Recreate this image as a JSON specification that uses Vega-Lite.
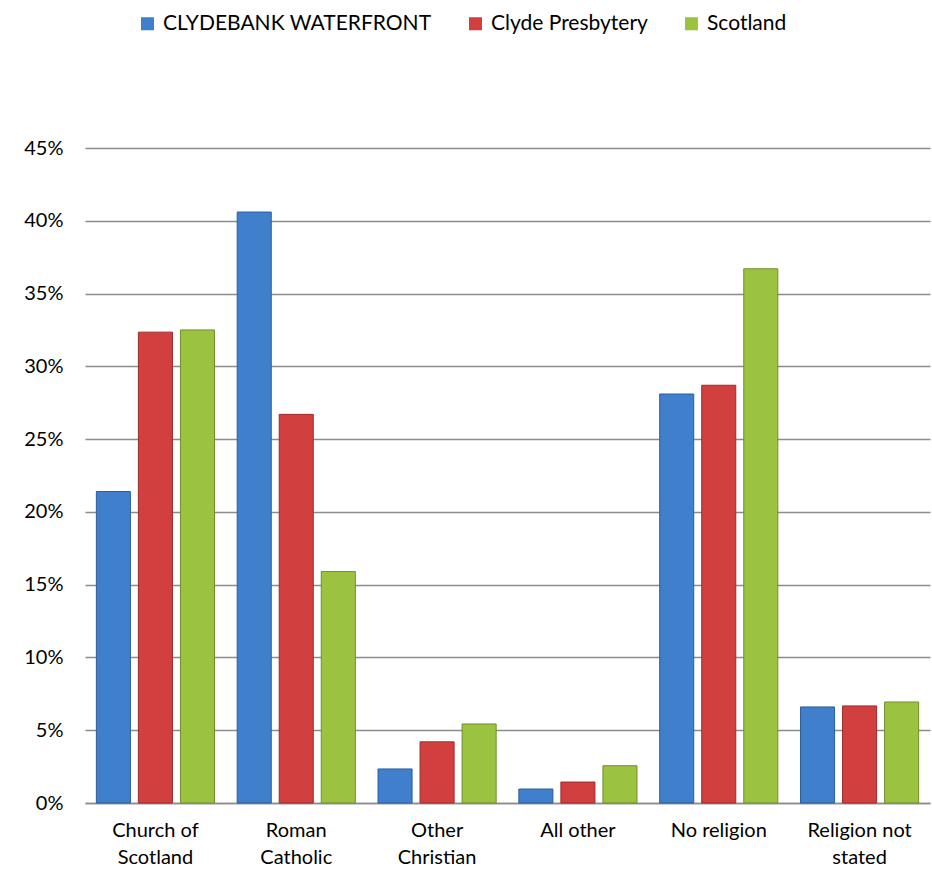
{
  "$schema": "https://vega.github.io/schema/vega-lite/v6.json",
  "autosize": {"type": "none"},
  "width": 845,
  "height": 655,
  "padding": {"left": 85, "top": 148, "right": 2, "bottom": 72},
  "background": "white",
  "config": {
    "view": {"stroke": null},
    "font": "Lato"
  },
  "data": {
    "values": [
      {"category": "Church of Scotland", "area": "CLYDEBANK WATERFRONT", "value": 21.4},
      {"category": "Church of Scotland", "area": "Clyde Presbytery", "value": 32.35},
      {"category": "Church of Scotland", "area": "Scotland", "value": 32.5},
      {"category": "Roman Catholic", "area": "CLYDEBANK WATERFRONT", "value": 40.6},
      {"category": "Roman Catholic", "area": "Clyde Presbytery", "value": 26.7},
      {"category": "Roman Catholic", "area": "Scotland", "value": 15.9},
      {"category": "Other Christian", "area": "CLYDEBANK WATERFRONT", "value": 2.34},
      {"category": "Other Christian", "area": "Clyde Presbytery", "value": 4.2},
      {"category": "Other Christian", "area": "Scotland", "value": 5.43},
      {"category": "All other", "area": "CLYDEBANK WATERFRONT", "value": 0.96},
      {"category": "All other", "area": "Clyde Presbytery", "value": 1.44},
      {"category": "All other", "area": "Scotland", "value": 2.56},
      {"category": "No religion", "area": "CLYDEBANK WATERFRONT", "value": 28.1},
      {"category": "No religion", "area": "Clyde Presbytery", "value": 28.7},
      {"category": "No religion", "area": "Scotland", "value": 36.7},
      {"category": "Religion not stated", "area": "CLYDEBANK WATERFRONT", "value": 6.6},
      {"category": "Religion not stated", "area": "Clyde Presbytery", "value": 6.67},
      {"category": "Religion not stated", "area": "Scotland", "value": 6.94}
    ]
  },
  "mark": {"type": "bar", "strokeWidth": 1},
  "encoding": {
    "x": {
      "field": "category",
      "type": "nominal",
      "sort": ["Church of Scotland", "Roman Catholic", "Other Christian", "All other", "No religion", "Religion not stated"],
      "scale": {"paddingInner": 0, "paddingOuter": 0},
      "axis": {
        "title": null,
        "labelAngle": 0,
        "labelFontSize": 20,
        "labelColor": "#000000",
        "labelPadding": 17,
        "labelLineHeight": 27,
        "labelBaseline": "top",
        "labelLimit": 0,
        "ticks": false,
        "domain": true,
        "domainColor": "#8c8c8c",
        "domainWidth": 1.5,
        "labelExpr": "datum.value == 'Church of Scotland' ? ['Church of', 'Scotland'] : datum.value == 'Roman Catholic' ? ['Roman', 'Catholic'] : datum.value == 'Other Christian' ? ['Other', 'Christian'] : datum.value == 'Religion not stated' ? ['Religion not', 'stated'] : datum.label"
      }
    },
    "xOffset": {
      "field": "area",
      "type": "nominal",
      "sort": ["CLYDEBANK WATERFRONT", "Clyde Presbytery", "Scotland"],
      "scale": {"paddingInner": 0.19, "paddingOuter": 0.27}
    },
    "y": {
      "field": "value",
      "type": "quantitative",
      "scale": {"domain": [0, 45], "nice": false},
      "axis": {
        "title": null,
        "values": [0, 5, 10, 15, 20, 25, 30, 35, 40, 45],
        "labelExpr": "datum.value + '%'",
        "labelFontSize": 20,
        "labelColor": "#000000",
        "labelPadding": 22,
        "ticks": false,
        "domain": false,
        "grid": true,
        "gridColor": "#8c8c8c",
        "gridWidth": 1.5
      }
    },
    "color": {
      "field": "area",
      "type": "nominal",
      "sort": ["CLYDEBANK WATERFRONT", "Clyde Presbytery", "Scotland"],
      "scale": {
        "domain": ["CLYDEBANK WATERFRONT", "Clyde Presbytery", "Scotland"],
        "range": ["#3f7fcc", "#d23f3f", "#9bc340"]
      },
      "legend": {
        "title": null,
        "orient": "none",
        "direction": "horizontal",
        "legendX": 52,
        "legendY": -135,
        "symbolType": "square",
        "symbolSize": 170,
        "symbolStrokeWidth": 0,
        "symbolOpacity": 1,
        "labelFontSize": 21,
        "labelLimit": 0,
        "labelColor": "#000000",
        "labelOffset": 5,
        "columnPadding": 33
      }
    },
    "stroke": {
      "field": "area",
      "type": "nominal",
      "scale": {
        "domain": ["CLYDEBANK WATERFRONT", "Clyde Presbytery", "Scotland"],
        "range": ["#2d5d9c", "#9c2b2b", "#6e8e2c"]
      },
      "legend": null
    }
  }
}
